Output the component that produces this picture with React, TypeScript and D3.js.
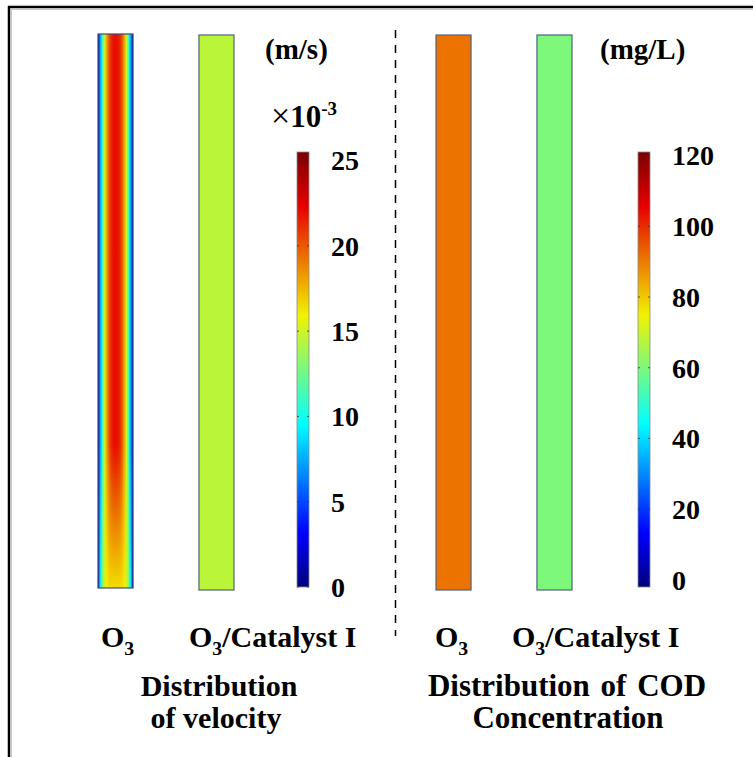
import React from 'react';
import * as d3 from 'd3';

// --- data ---
const panelColumns = ['O3', 'O3/Catalyst I'];

// velocity, x10^-3 m/s
const velocityTicks = [0, 5, 10, 15, 20, 25];
const velocityRange = [0, 25.5];
// radial profile across the O3 column (wall -> wall), fully developed part
const velocityProfileO3 = [1.5, 7, 11, 15, 18, 20, 21.3, 21.8, 22, 21.8, 21.3, 20, 18, 15, 11, 7, 1.5];
// radial profile at the inlet (bottom) of the O3 column
const velocityInletO3 = [2, 9, 13, 15, 16, 16.5, 16.5, 16.5, 16.5, 16.5, 16.5, 16.5, 16, 15, 13, 9, 2];
// where the inlet profile starts to blend in (z/L measured from the bottom)
const inletBlendZ = [0.26, 0.0];
const velocityCatalyst = 14.5;

// COD, mg/L
const codTicks = [0, 20, 40, 60, 80, 100, 120];
const codRange = [-2, 121];
const codO3 = 91;
const codCatalyst = 60;

// jet-like colour map as rendered in the figure
const jetPos = [0, 0.125, 0.375, 0.625, 0.875, 1];
const jetColors = ['#00007f', '#0000ff', '#00ffff', '#f2f200', '#e60000', '#7a0000'];

const W = 753;
const H = 757;
const FONT = '"Liberation Serif", "Times New Roman", serif';

const jet = d3.scaleLinear<string>().domain(jetPos).range(jetColors).interpolate(d3.interpolateRgb).clamp(true);

const colTop = 34;
const colBottom = 588;
const barTop = 152;
const barBottom = 587;

function O3Label({ x, y, size, rest = '' }: any) {
  return (
    <text x={x} y={y} fontFamily={FONT} fontWeight="bold" fontSize={size}>
      O<tspan dy={size * 0.25} fontSize={size * 0.66}>3</tspan>
      {rest ? <tspan dy={-size * 0.25}>{rest}</tspan> : null}
    </text>
  );
}

function ColorBar({ id, x, domain, ticks, labelX }: any) {
  const y = d3.scaleLinear().domain(domain).range([barBottom, barTop]);
  return (
    <g>
      <defs>
        <linearGradient id={id} x1="0" y1="1" x2="0" y2="0">
          {jetPos.map((p, i) => (
            <stop key={i} offset={p} stopColor={jetColors[i]} />
          ))}
        </linearGradient>
      </defs>
      <rect x={x} y={barTop} width={12} height={barBottom - barTop} fill={`url(#${id})`} stroke="#8a8a8a" strokeWidth={0.8} />
      {ticks.map((v: number) => (
        <g key={v}>
          <line x1={x} x2={x + 2} y1={y(v)} y2={y(v)} stroke="#333" strokeWidth={0.8} />
          <line x1={x + 10} x2={x + 12} y1={y(v)} y2={y(v)} stroke="#333" strokeWidth={0.8} />
          <text x={labelX} y={y(v)} dy="0.35em" fontFamily={FONT} fontWeight="bold" fontSize={28}>
            {v}
          </text>
        </g>
      ))}
    </g>
  );
}

function gradientStops(profile: number[], range: number[]) {
  const t = d3.scaleLinear().domain(range).range([0, 1]);
  return profile.map((v, i) => (
    <stop key={i} offset={i / (profile.length - 1)} stopColor={jet(t(v))} />
  ));
}

export default function App() {
  const velX = d3.scaleBand().domain(panelColumns).range([98, 234]).paddingInner(0.653);
  const codX = d3.scaleBand().domain(panelColumns).range([436, 572]).paddingInner(0.653);
  const zScale = d3.scaleLinear().domain([0, 1]).range([colBottom, colTop]);
  const vT = d3.scaleLinear().domain(velocityRange).range([0, 1]);
  const cT = d3.scaleLinear().domain(codRange).range([0, 1]);
  const bw = velX.bandwidth();
  const colStroke = '#4f6282';

  const x0 = velX('O3')!;
  const blendTop = zScale(inletBlendZ[0]);
  const blendBottom = zScale(inletBlendZ[1]);

  return (
    <svg width={W} height={H} style={{ position: 'absolute', left: 0, top: 0, background: '#fff' }}>
      <defs>
        <linearGradient id="velDev" x1="0" y1="0" x2="1" y2="0">
          {gradientStops(velocityProfileO3, velocityRange)}
        </linearGradient>
        <linearGradient id="velInlet" x1="0" y1="0" x2="1" y2="0">
          {gradientStops(velocityInletO3, velocityRange)}
        </linearGradient>
        <linearGradient id="inletFade" gradientUnits="userSpaceOnUse" x1="0" y1={blendTop} x2="0" y2={blendBottom}>
          <stop offset="0" stopColor="#fff" stopOpacity={0} />
          <stop offset="1" stopColor="#fff" stopOpacity={1} />
        </linearGradient>
        <mask id="inletMask" maskUnits="userSpaceOnUse" x={0} y={0} width={W} height={H}>
          <rect x={x0} y={blendTop} width={bw} height={blendBottom - blendTop} fill="url(#inletFade)" />
        </mask>
      </defs>

      {/* frame */}
      <path d={`M10,${H} V8 H${W}`} fill="none" stroke="#c8c8c8" strokeWidth={1} transform="translate(1.5,1.5)" />
      <path d={`M9,${H} V7 H${W}`} fill="none" stroke="#000" strokeWidth={2.5} />

      {/* velocity panel */}
      <rect x={x0} y={colTop} width={bw} height={colBottom - colTop} fill="url(#velDev)" />
      <rect x={x0} y={blendTop} width={bw} height={blendBottom - blendTop} fill="url(#velInlet)" mask="url(#inletMask)" />
      <rect x={x0} y={colTop} width={bw} height={colBottom - colTop} fill="none" stroke="#3c4a78" strokeWidth={1.2} />
      <rect x={velX('O3/Catalyst I')} y={colTop + 1} width={bw} height={colBottom - colTop + 1} fill={jet(vT(velocityCatalyst))} stroke={colStroke} strokeWidth={1.2} />

      <text x={265} y={59} fontFamily={FONT} fontWeight="bold" fontSize={29}>(m/s)</text>
      <text x={271} y={127} fontFamily={FONT} fontWeight="bold" fontSize={31}>
        <tspan fontWeight="normal" fontSize={34}>×</tspan>10<tspan dy={-12} fontSize={19}>-3</tspan>
      </text>
      <ColorBar id="velBar" x={297} domain={velocityRange} ticks={velocityTicks} labelX={331} />

      {/* divider */}
      <line x1={395.5} x2={395.5} y1={30} y2={636} stroke="#000" strokeWidth={1.5} strokeDasharray="8,7" />

      {/* COD panel */}
      <rect x={codX('O3')} y={colTop + 1} width={bw} height={colBottom - colTop + 1} fill={jet(cT(codO3))} stroke={colStroke} strokeWidth={1.2} />
      <rect x={codX('O3/Catalyst I')} y={colTop + 1} width={bw} height={colBottom - colTop + 1} fill={jet(cT(codCatalyst))} stroke={colStroke} strokeWidth={1.2} />

      <text x={600} y={59} fontFamily={FONT} fontWeight="bold" fontSize={29}>(mg/L)</text>
      <ColorBar id="codBar" x={638} domain={codRange} ticks={codTicks} labelX={672} />

      {/* column labels */}
      <O3Label x={101} y={647} size={30} />
      <O3Label x={189} y={647} size={30} rest="/Catalyst I" />
      <O3Label x={435} y={647} size={30} />
      <O3Label x={512} y={647} size={30} rest="/Catalyst I" />

      {/* panel titles */}
      <g fontFamily={FONT} fontWeight="bold" fontSize={30} textAnchor="middle">
        <text x={219} y={696}>Distribution</text>
        <text x={216} y={728}>of velocity</text>
        <text x={567} y={696} fontSize={31} wordSpacing={3}>Distribution of COD</text>
        <text x={568} y={728} fontSize={31}>Concentration</text>
      </g>
    </svg>
  );
}
